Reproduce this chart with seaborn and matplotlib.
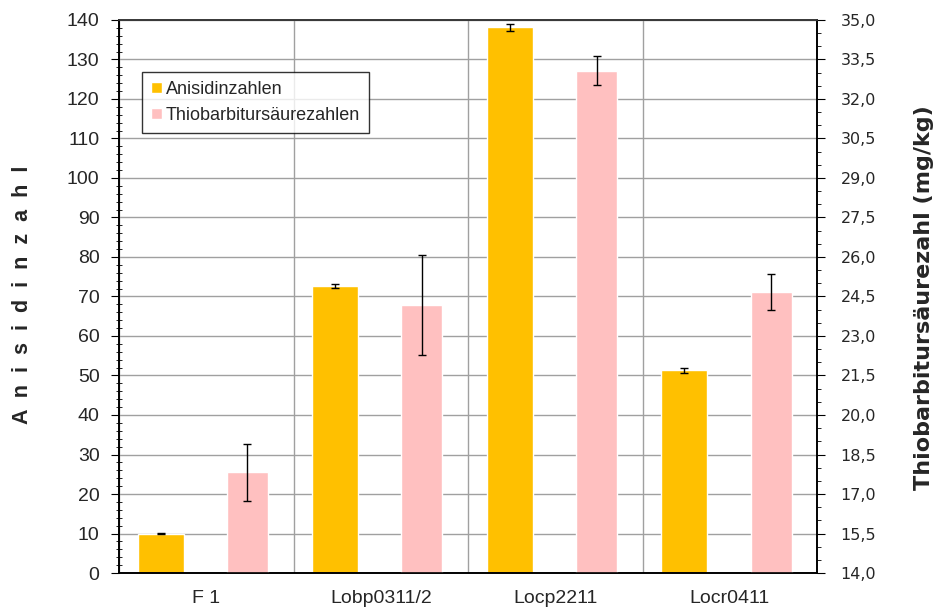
import numpy as np
import pandas as pd
import matplotlib
matplotlib.use("Agg")
import matplotlib.pyplot as plt
from matplotlib.ticker import MultipleLocator, FixedLocator, FuncFormatter
import seaborn as sns

# data
samples = ["F 1", "Lobp0311/2", "Locp2211", "Locr0411"]
anisidin = [9.95, 72.7, 138.2, 51.3]
anisidin_err = [0.2, 0.5, 0.9, 0.6]
tba = [17.83, 24.18, 33.07, 24.66]
tba_err = [1.08, 1.89, 0.55, 0.69]

YELLOW = "#FFC000"
PINK = "#FFC0C0"
GRID = "#A0A0A0"

sns.set_style("white")
plt.rcParams["font.family"] = ["Liberation Sans", "DejaVu Sans"]

idx = np.arange(len(samples))
df_a = pd.DataFrame({"pos": idx - 0.262, "value": anisidin})
df_t = pd.DataFrame({"pos": idx + 0.236, "value": tba})

fig = plt.figure(figsize=(9.38, 6.09), dpi=100)
ax = fig.add_axes([0.1269, 0.0591, 0.7442, 0.9081])
ax2 = ax.twinx()

sns.barplot(data=df_a, x="pos", y="value", native_scale=True, width=0.264,
            color=YELLOW, saturation=1, errorbar=None, ax=ax, zorder=2,
            label="Anisidinzahlen")
ax.errorbar(df_a["pos"], df_a["value"], yerr=anisidin_err, fmt="none",
            ecolor="black", elinewidth=1, capsize=3, capthick=1, zorder=3)

sns.barplot(data=df_t, x="pos", y="value", native_scale=True, width=0.235,
            color=PINK, saturation=1, errorbar=None, ax=ax2, zorder=2,
            label="Thiobarbitursäurezahlen")
ax2.errorbar(df_t["pos"], df_t["value"], yerr=tba_err, fmt="none",
             ecolor="black", elinewidth=1, capsize=3, capthick=1, zorder=3)

# left axis
ax.set_xlim(-0.5, len(samples) - 0.5)
ax.set_ylim(0, 140)
ax.yaxis.set_major_locator(MultipleLocator(10))
ax.yaxis.set_minor_locator(MultipleLocator(2))
ax.set_xticks(idx)
ax.set_xticklabels(samples, fontsize=14)
ax.xaxis.set_minor_locator(FixedLocator(np.arange(-0.5, len(samples), 1.0)))
ax.tick_params(axis="x", which="major", length=0, pad=12)
ax.tick_params(axis="x", which="minor", length=7, direction="out", color="black")
ax.tick_params(axis="y", which="major", length=6, direction="out", labelsize=14, pad=8,
               left=True, color="black")
ax.tick_params(axis="y", which="minor", length=5, direction="inout", left=True, color="black")
ax.set_xlabel("")
ax.set_ylabel("")
ax.grid(axis="y", which="major", color=GRID, lw=1, zorder=0)
ax.grid(axis="x", which="minor", color=GRID, lw=1, zorder=0)
ax.set_axisbelow(True)

# right axis
ax2.set_ylim(14, 35)
ax2.yaxis.set_major_locator(FixedLocator(np.arange(14, 35.01, 1.5)))
ax2.yaxis.set_minor_locator(FixedLocator(np.arange(14, 35.01, 0.5)))
ax2.yaxis.set_major_formatter(FuncFormatter(lambda v, p: f"{v:.1f}".replace(".", ",")))
ax2.tick_params(axis="y", which="major", length=6, direction="out", right=True, color="black",
                pad=11)
ax2.tick_params(axis="y", which="minor", length=3, direction="out", right=True, color="black")
for lab in ax2.get_yticklabels():
    lab.set_fontfamily("DejaVu Sans")
    lab.set_fontsize(11.5)
ax2.set_ylabel("")
ax2.grid(False)

for a in (ax, ax2):
    for s in a.spines.values():
        s.set_visible(True)
        s.set_color("black")
        s.set_linewidth(1.2)
ax2.spines["top"].set_color("#404040")

fig.text(0.0235, 0.516, "  ".join("Anisidinzahl"), rotation=90, ha="center", va="center",
         fontsize=15.5, fontweight="bold")
fig.text(0.985, 0.512, "Thiobarbitursäurezahl (mg/kg)", rotation=90, ha="center",
         va="center", fontsize=16, fontweight="bold", family="DejaVu Sans")

if ax.get_legend() is not None:
    ax.get_legend().remove()
h1, l1 = ax.get_legend_handles_labels()
h2, l2 = ax2.get_legend_handles_labels()
leg = ax2.legend(h1 + h2, l1 + l2, loc="upper left", bbox_to_anchor=(0.033, 0.906),
                 fontsize=13, frameon=True, fancybox=False, edgecolor="black",
                 handlelength=0.6, handleheight=0.6, handletextpad=0.2,
                 borderpad=0.5, labelspacing=0.5, borderaxespad=0)
leg.get_frame().set_linewidth(1)

fig.savefig("out.png", dpi=100)
